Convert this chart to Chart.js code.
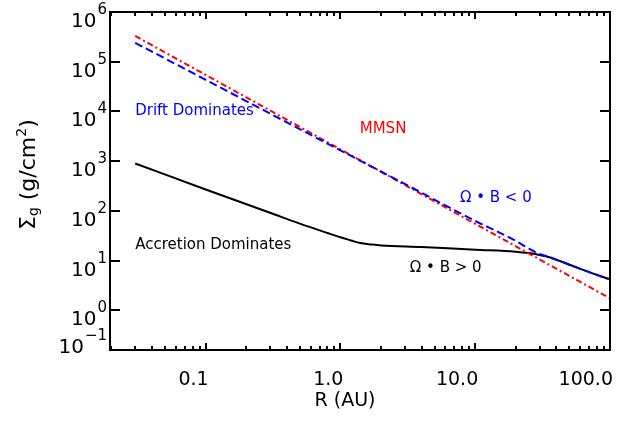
<!DOCTYPE html>
<html>
<head>
<meta charset="utf-8">
<script src="https://cdn.jsdelivr.net/npm/chart.js@4.4.0/dist/chart.umd.min.js"></script>
<style>
  html, body { margin: 0; padding: 0; background: #fff; }
  #wrap { width: 642px; height: 427px; }
</style>
</head>
<body>
<div id="wrap"><canvas id="sigmaChart" width="642" height="427"></canvas></div>
<script>
// gas surface density profiles, R in AU, Sigma in g/cm^2
const mmsnR = [0.03, 100];
const mmsnSigma = [3.3e5, 1.75];

const driftR = [0.03, 0.3, 1, 3, 10, 15, 20, 25, 30, 35, 50, 70, 100];
const driftSigma = [2.4e5, 9100, 1650, 350, 63, 37, 25, 17.5, 13.6, 11.9, 8.3, 5.9, 4.2];

const accR = [0.03, 0.1, 0.3, 0.5, 0.8, 1.0, 1.2, 1.4, 1.7, 2.0, 4.0, 10, 20, 25, 30, 35, 50, 70, 100];
const accSigma = [900, 270, 92, 55.5, 36, 29.5, 25.5, 22.6, 21.2, 20.3, 18.8, 16.6, 15.2, 14.2, 13.0, 11.9, 8.3, 5.9, 4.2];

// axes
const xMin = 0.0195, xMax = 100;
const yMin = 0.16, yMax = 1e6;
const xMajor = [0.1, 1, 10, 100];
const xMajorLabels = ['0.1', '1.0', '10.0', '100.0'];
const yMajor = [yMin, 1, 10, 100, 1e3, 1e4, 1e5, 1e6];
const yExponents = ['\u22121', '0', '1', '2', '3', '4', '5', '6'];

// text written inside the plot, placed at (R, Sigma)
const notes = [
  { text: 'Drift Dominates', r: 0.03, s: 1e4, color: '#0000ff' },
  { text: 'MMSN', r: 1.39, s: 4400, color: '#ff0000' },
  { text: '\u03a9 \u2022 B < 0', r: 7.7, s: 180, color: '#0000ff' },
  { text: 'Accretion Dominates', r: 0.03, s: 21, color: '#000000' },
  { text: '\u03a9 \u2022 B > 0', r: 3.27, s: 7, color: '#000000' }
];

const FONT = '"DejaVu Sans", sans-serif';

const toPoints = (rs, ss) => rs.map((r, i) => ({ x: r, y: ss[i] }));

function minorTicks() {
  const out = [];
  for (const d of [0.01, 0.1, 1, 10]) {
    for (let k = 2; k <= 9; k++) {
      const v = k * d;
      if (v > xMin && v < xMax) out.push(v);
    }
  }
  return out;
}

function drawPow(ctx, exp, xr, yc) {
  ctx.textAlign = 'right';
  ctx.textBaseline = 'alphabetic';
  ctx.font = '15px ' + FONT;
  const ew = ctx.measureText(exp).width;
  ctx.fillText(exp, xr, yc - 6);
  ctx.font = '20px ' + FONT;
  ctx.fillText('10', xr - ew - 1, yc + 7);
}

const axesPlugin = {
  id: 'idlAxes',
  afterDraw(chart) {
    const { ctx, chartArea: a, scales: { x, y } } = chart;
    ctx.save();
    ctx.setLineDash([]);
    ctx.strokeStyle = '#000';
    ctx.fillStyle = '#000';

    // frame
    ctx.lineWidth = 2;
    ctx.strokeRect(a.left, a.top, a.right - a.left, a.bottom - a.top);

    // inward ticks on all four sides
    xMajor.forEach(v => {
      const px = Math.round(x.getPixelForValue(v));
      ctx.fillRect(px - 1, a.bottom - 7, 2, 7);
      ctx.fillRect(px - 1, a.top, 2, 7);
    });
    minorTicks().forEach(v => {
      const px = Math.round(x.getPixelForValue(v));
      ctx.fillRect(px - 1, a.bottom - 4, 2, 4);
      ctx.fillRect(px - 1, a.top, 2, 4);
    });
    yMajor.slice(1, -1).forEach(v => {
      const py = Math.round(y.getPixelForValue(v));
      ctx.fillRect(a.left, py - 1, 10, 2);
      ctx.fillRect(a.right - 10, py - 1, 10, 2);
    });

    // y tick labels
    yMajor.forEach((v, i) => {
      const py = y.getPixelForValue(v);
      drawPow(ctx, yExponents[i], a.left - 3, Math.min(py + 8, a.bottom - 4));
    });

    // x tick labels
    ctx.font = '19px ' + FONT;
    ctx.textAlign = 'right';
    ctx.textBaseline = 'alphabetic';
    xMajor.forEach((v, i) => {
      ctx.fillText(xMajorLabels[i], x.getPixelForValue(v) + 3, a.bottom + 35);
    });

    // x title
    ctx.textAlign = 'center';
    ctx.fillText('R (AU)', 345, a.bottom + 56);

    // y title, rotated
    ctx.save();
    ctx.translate(35, 230);
    ctx.rotate(-Math.PI / 2);
    ctx.textAlign = 'left';
    let cx = 0;
    const part = (t, size, dy) => {
      ctx.font = size + 'px ' + FONT;
      ctx.fillText(t, cx, dy);
      cx += ctx.measureText(t).width;
    };
    part('\u03a3', 22, 0);
    part('g', 14, 3);
    part(' (g/cm', 22, 0);
    part('2', 14, -9);
    part(')', 22, 0);
    ctx.restore();

    // annotations
    ctx.font = '15px ' + FONT;
    ctx.textAlign = 'left';
    ctx.textBaseline = 'middle';
    notes.forEach(n => {
      ctx.fillStyle = n.color;
      ctx.fillText(n.text, x.getPixelForValue(n.r), y.getPixelForValue(n.s));
    });
    ctx.restore();
  }
};

new Chart(document.getElementById('sigmaChart').getContext('2d'), {
  type: 'line',
  data: {
    datasets: [
      {
        label: 'Omega.B < 0',
        data: toPoints(driftR, driftSigma),
        borderColor: '#0000ff',
        borderWidth: 2,
        borderDash: [8, 4],
        cubicInterpolationMode: 'monotone',
        pointRadius: 0,
        order: 0
      },
      {
        label: 'MMSN',
        data: toPoints(mmsnR, mmsnSigma),
        borderColor: '#ff0000',
        borderWidth: 2,
        borderDash: [6, 3, 2, 3],
        pointRadius: 0,
        order: 1
      },
      {
        label: 'Omega.B > 0',
        data: toPoints(accR, accSigma),
        borderColor: '#000000',
        borderWidth: 2,
        cubicInterpolationMode: 'monotone',
        pointRadius: 0,
        order: 2
      }
    ]
  },
  options: {
    responsive: false,
    animation: false,
    devicePixelRatio: 1,
    layout: { padding: { left: 0, top: 12, right: 32, bottom: 0 } },
    plugins: { legend: { display: false }, tooltip: { enabled: false } },
    scales: {
      x: {
        type: 'logarithmic', min: xMin, max: xMax,
        grid: { display: false }, border: { display: false }, ticks: { display: false },
        afterFit: s => { s.height = 77; }
      },
      y: {
        type: 'logarithmic', min: yMin, max: yMax,
        grid: { display: false }, border: { display: false }, ticks: { display: false },
        afterFit: s => { s.width = 110; }
      }
    }
  },
  plugins: [axesPlugin]
});
</script>
</body>
</html>
